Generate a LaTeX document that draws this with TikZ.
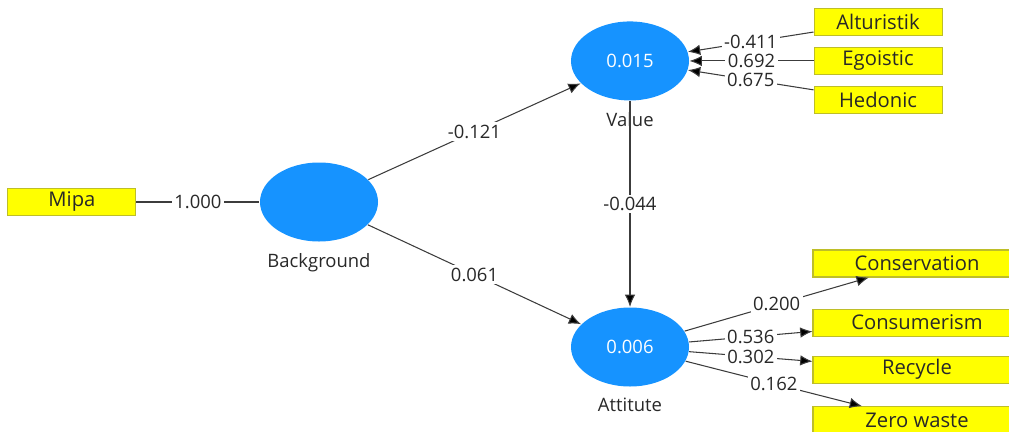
\documentclass[tikz,border=0pt]{standalone}
\usepackage{fontspec}
\setmainfont{Open Sans}
\usepackage{xcolor}
\usetikzlibrary{arrows.meta, positioning, shapes.geometric}

\definecolor{plsblue}{RGB}{22,147,255}
\definecolor{plsyellow}{RGB}{255,255,0}
\definecolor{plsborder}{RGB}{190,190,40}
\definecolor{plsline}{RGB}{60,60,60}
\definecolor{plstext}{RGB}{40,40,40}

\begin{document}
\begin{tikzpicture}[>={Latex[length=7pt,width=6pt]},
			line width=0.6pt,
			latent node/.style={ellipse,fill=plsblue,minimum width=2.36cm,minimum height=1.58cm,
				inner sep=0pt,text=white,font=\fontsize{10.5}{12}\selectfont},
			item node/.style={rectangle,draw=plsborder,fill=plsyellow,minimum width=2.56cm,
				minimum height=0.54cm,inner sep=0pt,text=plstext,font=\fontsize{11.5}{13}\selectfont},
			wide item/.style={item node,minimum width=4.16cm},
			name label/.style={text=plstext,font=\fontsize{10.5}{12}\selectfont}]
			
			\clip (0,0) rectangle (20.18,8.62);
			
			\node[latent node] (att) at (12.60,1.68) {0.006};
			\node[latent node] (val) [above=4.12cm of att] {0.015};
			\node[latent node] (bg) at (6.38,4.58) {};
			\node[name label] (bglabel) [below=1mm of bg] {Background};
			\node[name label] (vallabel) [below=1mm of val] {Value};
			\node[name label] (attlabel) [below=1mm of att] {Attitute};
			
			\node[item node] (mipa) [left=2.46cm of bg] {Mipa};
			\node[item node] (ego) [right=2.48cm of val] {Egoistic};
			\node[item node] (alt) [above=0.22cm of ego] {Alturistik};
			\node[item node] (hed) [below=0.22cm of ego] {Hedonic};
			
			\node[wide item] (cons) at (18.34,3.35) {Conservation};
			\node[wide item] (cmr) [below=0.62cm of cons] {Consumerism};
			\node[wide item] (rec) [below=0.38cm of cmr] {Recycle};
			\node[wide item] (zero) [below=0.45cm of rec] {Zero waste};
			
			\path[draw=plsline,every node/.style={midway,fill=white,inner sep=1.5pt,text=plstext,
				font=\fontsize{10.5}{12}\selectfont}]
			(mipa) edge node {1.000} (bg)
			(bg) edge[->] node {-0.121} (val)
			(bg) edge[->] node {0.061} (att)
			(val) edge[->] node {-0.044} (att)
			(alt) edge[->] node {-0.411} (val)
			(ego) edge[->] node {0.692} (val)
			(hed) edge[->] node {0.675} (val)
			(att) edge[->] node {0.200} (cons)
			(att) edge[->] node {0.536} (cmr)
			(att) edge[->] node {0.302} (rec)
			(att) edge[->] node {0.162} (zero);
		\end{tikzpicture}
\end{document}
